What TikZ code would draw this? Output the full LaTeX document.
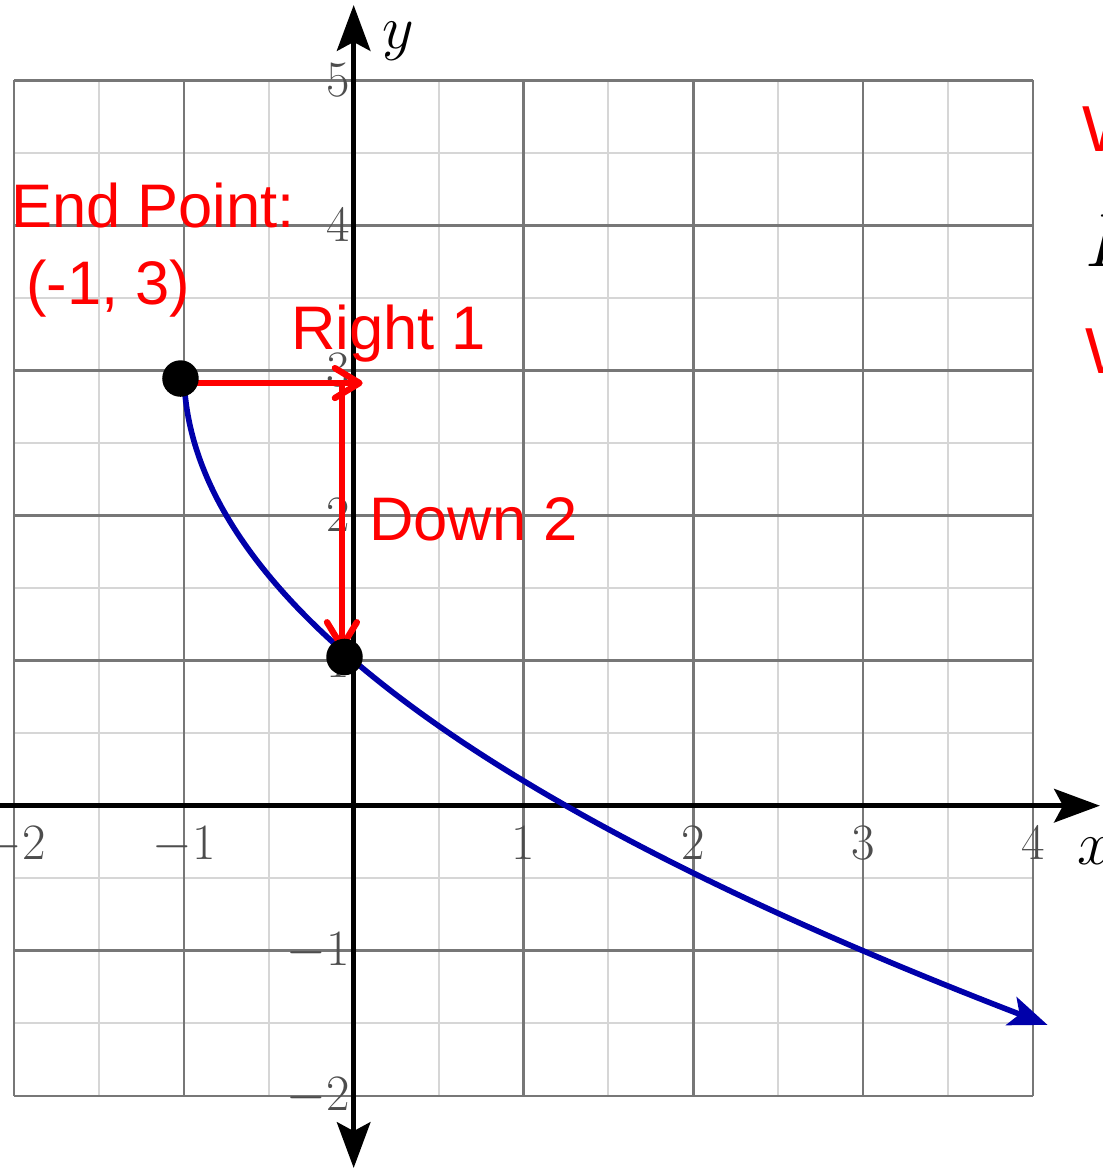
\RequirePackage{fix-cm}
\documentclass[tikz,border=0pt]{standalone}
\usepackage{fontspec}
\usepackage{tikz}
\usetikzlibrary{arrows.meta}
\newfontfamily\notefont{Liberation Sans}
\definecolor{gridmajor}{HTML}{777777}
\definecolor{gridminor}{HTML}{D6D6D6}
\definecolor{curveblue}{HTML}{0000AA}
\definecolor{ticklabel}{HTML}{4D4D4D}

\begin{document}
\begin{tikzpicture}[x=3.396cm, y=2.902cm,
  tick/.style={font=\fontsize{29}{30}\selectfont, text=ticklabel, inner sep=0pt},
  note/.style={font=\notefont\fontsize{35}{40}\selectfont, text=#1, inner sep=0pt, anchor=base west},
  dot/.style={circle, fill=black, minimum size=0.73cm, inner sep=0pt},
  move/.style={red, line width=3.6pt, -{Straight Barb[length=14pt,width=17pt,round]}},
  axisline/.style={line width=3pt, {Stealth[length=26pt,width=19pt,inset=5pt]}-{Stealth[length=26pt,width=19pt,inset=5pt]}}
]
  \clip (-2.083,-2.504) rectangle (4.413,5.553);

  % grid
  \foreach \x in {-1.5,-0.5,...,3.5}
    \draw[gridminor, line width=1.1pt] (\x,-2) -- (\x,5);
  \foreach \y in {-1.5,-0.5,...,4.5}
    \draw[gridminor, line width=1.1pt] (-2,\y) -- (4,\y);
  \foreach \x in {-2,...,4}
    \draw[gridmajor, line width=1.5pt] (\x,-2) -- (\x,5);
  \foreach \y in {-2,...,5}
    \draw[gridmajor, line width=1.5pt] (-2,\y) -- (4,\y);

  % axes
  \draw[line width=3pt, -{Stealth[length=26pt,width=19pt,inset=5pt]}] (-2.1,0) -- (4.395,0);
  \draw[axisline] (0,-2.497) -- (0,5.518);
  \node[inner sep=0pt, anchor=west, font=\fontsize{35}{40}\selectfont] (xlabel) at (4.26,-0.316) {$x$};
  \node[inner sep=0pt, anchor=west, font=\fontsize{35}{40}\selectfont] (ylabel) at (0.17,5.27) {$y$};

  \foreach \x/\t in {-2/-2,-1/-1,1/1,2/2,3/3,4/4}
    \node[tick, anchor=north] (xtick\t) at (\x,-0.144) {$\t$};
  \foreach \y/\t in {-2/-2,-1/-1,1/1,2/2,3/3,4/4,5/5}
    \node[tick, anchor=east] (ytick\t) at (-0.02,\y) {$\t$};

  % curve
  \draw[curveblue, line width=3.2pt, -{Stealth[length=22pt,width=17pt,inset=5pt]}]
    plot[domain=0:2.256, samples=150, variable=\t] ({\t*\t-1},{3-2*\t});

  % moves
  \coordinate (rstart) at (-1.02,2.913);
  \coordinate (rend) at (0.053,2.913);
  \coordinate (dstart) at (-0.069,2.93);
  \coordinate (dend) at (-0.069,1.073);
  \draw[move] (rstart) -- (rend);
  \draw[move] (dstart) -- (dend);
  \node[dot] (endpt) at (-1.02,2.944) {};
  \node[dot] (yint) at (-0.054,1.025) {};

  \node[note=red] (endlabel) at (-2.02,3.986) {End Point:};
  \node[note=red] (endcoord) at (-1.93,3.457) {(-1, 3)};
  \node[note=red] (rightlabel) at (-0.37,3.141) {Right 1};
  \node[note=red] (downlabel) at (0.09,1.828) {Down 2};

  \node[note=red, font=\notefont\fontsize{37}{40}\selectfont] (wtop) at (4.288,4.509) {W};
  \node[inner sep=0pt, anchor=base west, font=\fontsize{43}{46}\selectfont] (lmid) at (4.31,3.718) {$L$};
  \node[note=red, font=\notefont\fontsize{37}{40}\selectfont] (wbottom) at (4.306,2.976) {W};
\end{tikzpicture}
\end{document}
